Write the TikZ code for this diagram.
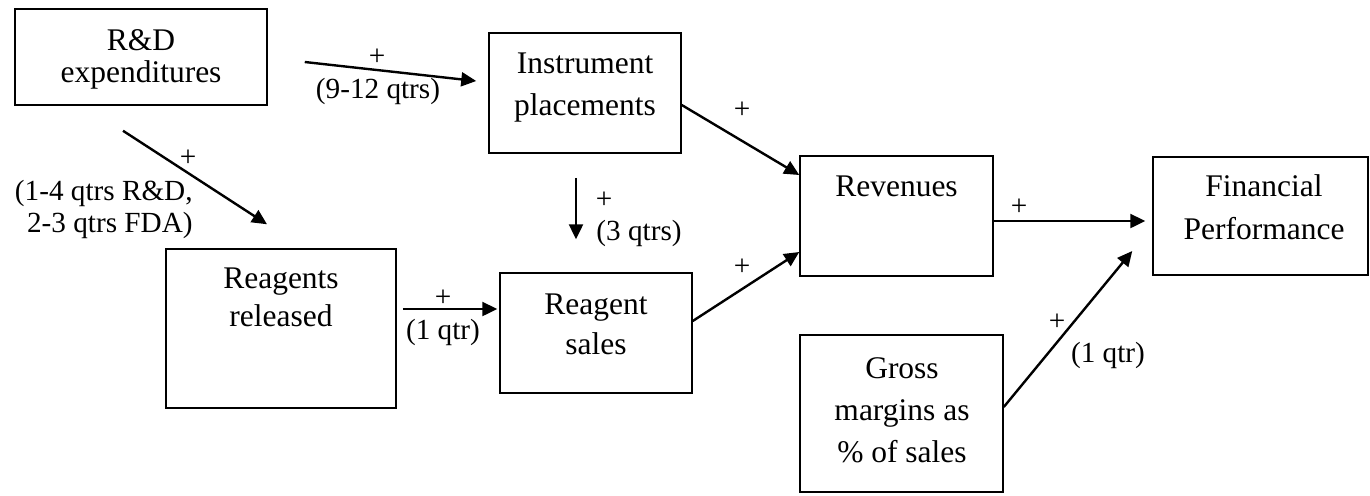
\documentclass[tikz,border=0pt]{standalone}
\usepackage{fontspec}
\setmainfont{Liberation Serif}
\usetikzlibrary{arrows.meta}
\begin{document}
\begin{tikzpicture}[x=0.5pt,y=-0.5pt,
  box/.style={draw, line width=0.75pt, inner sep=0pt},
  lbl/.style={inner sep=0pt, align=center, font=\fontsize{15.75}{21}\selectfont},
  tight/.style={font=\fontsize{15.75}{16}\selectfont},
  clbl/.style={inner sep=0pt, align=center, font=\fontsize{14.6}{16}\selectfont},
  conn/.style={-{Triangle[length=7.5pt,width=7pt]}, line width=1.2pt},
]
\path[use as bounding box] (0,0) rectangle (1370,495);

% boxes
\node[box, minimum width=126pt, minimum height=48pt] (rd) at (141,57) {};
\node[box, minimum width=96pt, minimum height=60pt] (inst) at (585,93) {};
\node[box, minimum width=115pt, minimum height=79.5pt] (rel) at (281,328.5) {};
\node[box, minimum width=96pt, minimum height=60pt] (sales) at (596,333) {};
\node[box, minimum width=96.5pt, minimum height=60pt] (rev) at (896.5,216) {};
\node[box, minimum width=107.5pt, minimum height=59pt] (fin) at (1260.5,216) {};
\node[box, minimum width=101.5pt, minimum height=78.5pt] (gross) at (901.5,413.5) {};

% box texts
\node[lbl, tight] (rdt) at (141,59) {R\&D\\expenditures};
\node[lbl] (instt) at (585,88) {Instrument\\placements};
\node[lbl, font=\fontsize{15.75}{19}\selectfont] (relt) at (281,297.5) {Reagents\\released};
\node[lbl, font=\fontsize{15.75}{20}\selectfont] (salest) at (596,324.5) {Reagent\\sales};
\node[lbl] (revt) at (896.5,186.5) {Revenues};
\node[lbl, font=\fontsize{15.75}{21.5}\selectfont] (fint) at (1264,207) {Financial\\Performance};
\node[lbl] (grosst) at (902,410.5) {Gross\\margins as\\\% of sales};

% connectors
\draw[conn] ([xshift=18.5pt,yshift=-2.5pt]rd.east) -- ([xshift=-6pt,yshift=6pt]inst.west);
\draw[conn] ([xshift=-9pt,yshift=-12.5pt]rd.south) -- ([xshift=-7pt,yshift=12pt]rel.north);
\draw[conn] ([yshift=-6pt]inst.east) -- ([yshift=20.5pt]rev.west);
\draw[conn] ([xshift=-4.5pt,yshift=-12pt]inst.south) -- ([xshift=-10pt,yshift=16.5pt]sales.north);
\draw[conn] ([xshift=3pt,yshift=9.75pt]rel.east) -- ([xshift=-1pt,yshift=12pt]sales.west);
\draw[conn] ([yshift=6pt]sales.east) -- ([yshift=-18pt]rev.west);
\draw[conn] ([yshift=-2.5pt]rev.east) -- ([xshift=-3.5pt,yshift=-2.5pt]fin.west);
\draw[conn] ([yshift=3.25pt]gross.east) -- ([xshift=-10pt,yshift=-17.5pt]fin.west);

% connector labels
\node[clbl] (p1) at (377,57) {+};
\node[clbl] (l1) at (378,91.5) {(9-12 qtrs)};
\node[clbl] (p2) at (188,158) {+};
\node[clbl, align=right, anchor=east] (l2) at (193,209.5) {(1-4 qtrs R\&D,\\2-3 qtrs FDA)};
\node[clbl] (p3) at (742,110) {+};
\node[clbl] (p4) at (604,200) {+};
\node[clbl] (l4) at (639,233.5) {(3 qtrs)};
\node[clbl] (p5) at (443,298) {+};
\node[clbl] (l5) at (443,332) {(1 qtr)};
\node[clbl] (p6) at (742,267) {+};
\node[clbl] (p7) at (1019,207) {+};
\node[clbl] (p8) at (1057,322) {+};
\node[clbl] (l8) at (1108,355) {(1 qtr)};
\end{tikzpicture}
\end{document}
